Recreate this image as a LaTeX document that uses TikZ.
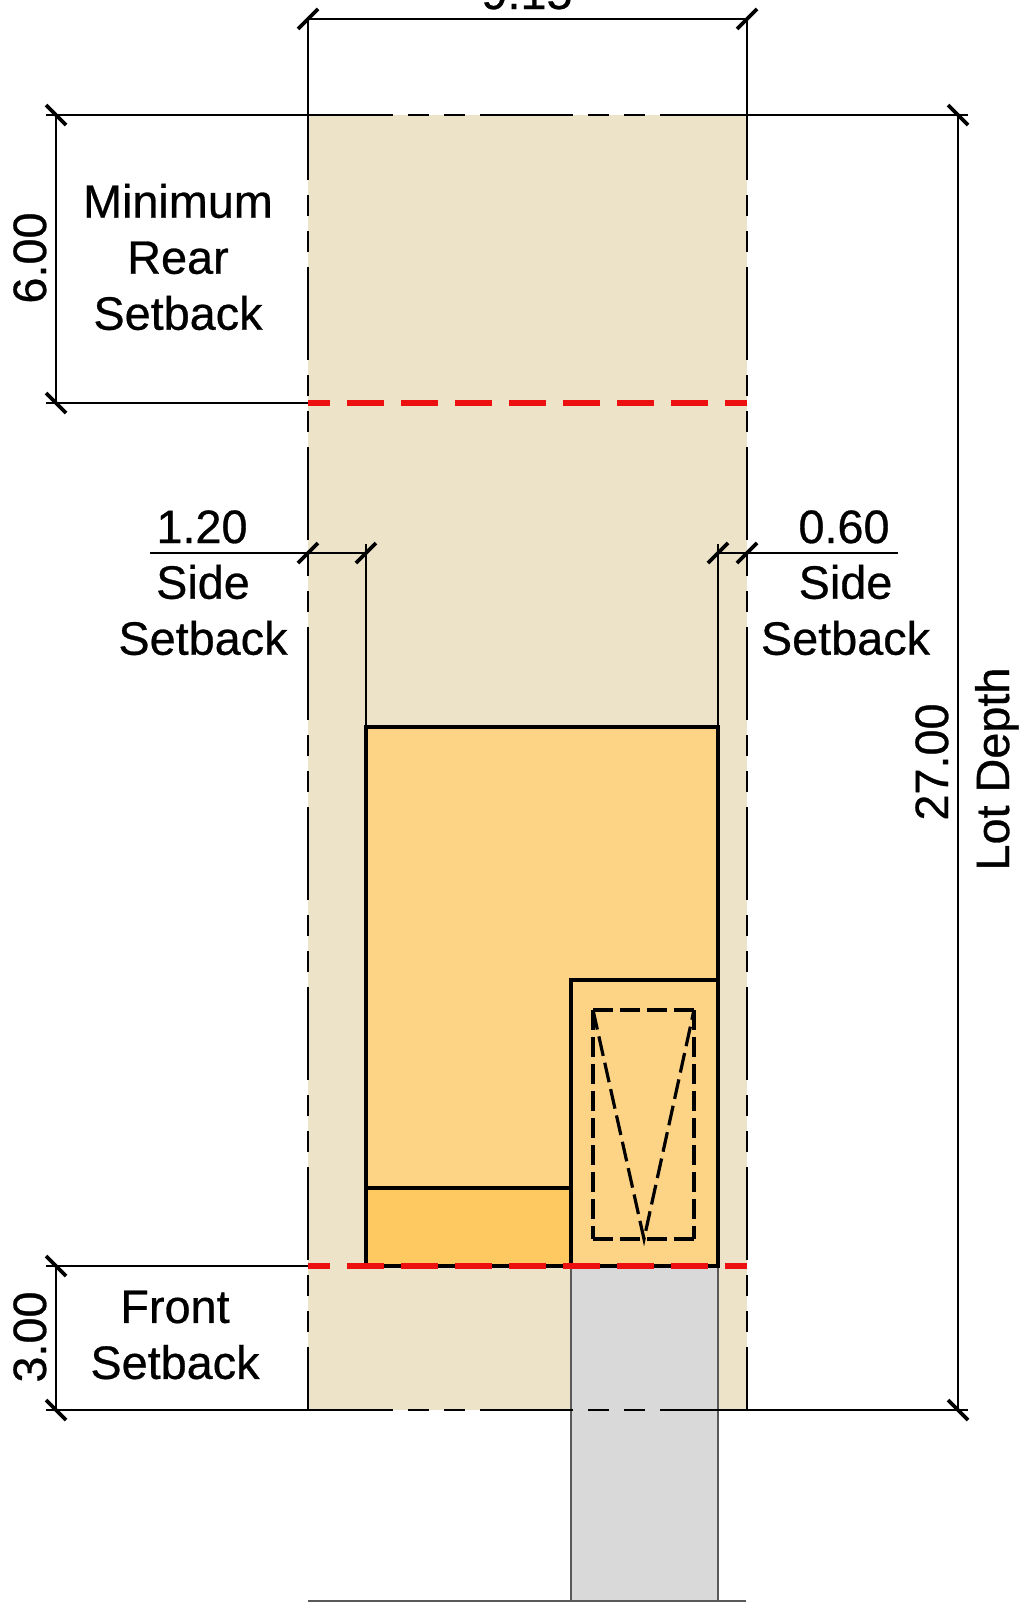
\documentclass[tikz,border=0pt]{standalone}
\usepackage{fontspec}
\setmainfont{Liberation Sans}[RawFeature={embolden=0.6}]
\usepackage{tikz}
\definecolor{lottan}{RGB}{236,227,200}
\definecolor{housefill}{RGB}{253,212,133}
\definecolor{porchfill}{RGB}{255,201,98}
\definecolor{drivefill}{RGB}{217,217,217}
\definecolor{setbackred}{RGB}{236,16,16}
\tikzstyle{dimline}=[line width=2.4pt,draw=black]
\tikzstyle{dimtick}=[line width=3.6pt,draw=black]
\tikzstyle{lotline}=[line width=2.8pt,draw=black,dash pattern=on 93pt off 15pt on 21pt off 15pt on 21pt off 15pt]
\tikzstyle{setback}=[line width=6.5pt,draw=setbackred,dash pattern=on 37pt off 17pt,dash phase=15pt]
\tikzstyle{wall}=[line width=4.4pt,draw=black]
\tikzstyle{garage}=[line width=3.2pt,draw=black,dash pattern=on 20pt off 7pt]
\tikzstyle{drive}=[line width=1.4pt,draw=black!65]
\tikzstyle{lbl}=[inner sep=0pt,align=center,font=\fontsize{46.8}{56}\selectfont]
\begin{document}
\begin{tikzpicture}[x=1pt,y=-1pt]
     \useasboundingbox (0,0) rectangle (1024,1612);
     % lot corners and setback lines
     \coordinate (LT) at (308,115);
     \coordinate (RT) at (747,115);
     \coordinate (LB) at (308,1410);
     \coordinate (RB) at (747,1410);
     \coordinate (LR) at (308,403);
     \coordinate (RR) at (747,403);
     \coordinate (LF) at (308,1266);
     \coordinate (RF) at (747,1266);
     % house
     \coordinate (H1) at (366,727);
     \coordinate (H2) at (718,727);
     \coordinate (H3) at (718,1266);
     \coordinate (H4) at (366,1266);
     \coordinate (G1) at (571,980);
     \coordinate (G2) at (718,980);
     \coordinate (G3) at (571,1266);
     \coordinate (P1) at (366,1188);
     \coordinate (P2) at (571,1188);
     % garage car space
     \coordinate (C1) at (593,1010);
     \coordinate (C2) at (694,1010);
     \coordinate (C3) at (694,1239);
     \coordinate (C4) at (593,1239);
     \coordinate (C5) at (644,1239);
     % driveway
     \coordinate (D1) at (571,1601);
     \coordinate (D2) at (718,1601);
     \coordinate (S1) at (308,1601);
     \coordinate (S2) at (746,1601);
     % dimension ends
     \coordinate (WL) at (308,19);
     \coordinate (WR) at (747,19);
     \coordinate (A1) at (56,115);
     \coordinate (A2) at (56,403);
     \coordinate (A3) at (56,1266);
     \coordinate (A4) at (56,1410);
     \coordinate (B1) at (958,115);
     \coordinate (B2) at (958,1410);
     \coordinate (E1) at (150,553);
     \coordinate (E2) at (308,553);
     \coordinate (E3) at (366,553);
     \coordinate (E4) at (718,553);
     \coordinate (E5) at (747,553);
     \coordinate (E6) at (898,553);

     % fills
     \fill[lottan] (LT) rectangle (RB);
     \fill[drivefill] (G3) rectangle (D2);
     \fill[housefill] (H1) rectangle (H3);
     \fill[porchfill] (P1) rectangle (G3);

     % driveway edges
     \draw[drive] (G3) -- (D1);
     \draw[drive] (H3) -- (D2);
     \draw[drive] (S1) -- (S2);

     % house outline
     \draw[wall] (H1) -- (H2) -- (H3) -- (H4) -- cycle;
     \draw[wall] (P1) -- (P2);
     \draw[wall] (G3) -- (G1) -- (G2);
     \draw[garage] (C1) -- (C2);
     \draw[garage] (C4) -- (C3);
     \draw[garage] (C1) -- (C4);
     \draw[garage] (C2) -- (C3);
     \draw[garage] (C1) -- (C5) -- (C2);

     % lot lines
     \draw[lotline,dash phase=8pt] (LT) -- (RT);
     \draw[lotline,dash phase=8pt] (LB) -- (RB);
     \draw[lotline,dash phase=30pt] (LB) -- (LT);
     \draw[lotline,dash phase=30pt] (RB) -- (RT);

     % dimension lines
     \draw[dimline] (WL) -- (WR);
     \draw[dimline] (WL) -- (LT);
     \draw[dimline] (WR) -- (RT);
     \draw[dimline] ([xshift=-10pt]A1) -- (LT);
     \draw[dimline] ([xshift=-10pt]A2) -- (LR);
     \draw[dimline] ([xshift=-10pt]A3) -- (LF);
     \draw[dimline] ([xshift=-10pt]A4) -- (LB);
     \draw[dimline] (A1) -- (A2);
     \draw[dimline] (A3) -- (A4);
     \draw[dimline] (RT) -- ([xshift=10pt]B1);
     \draw[dimline] (RB) -- ([xshift=10pt]B2);
     \draw[dimline] (B1) -- (B2);
     \draw[dimline] (E1) -- (E3);
     \draw[dimline] (E4) -- (E6);
     \draw[dimline] ([yshift=9pt]E3) -- (H1);
     \draw[dimline] ([yshift=9pt]E4) -- (H2);

     % ticks
     \foreach \p in {A1,A2,A3,A4,B1,B2}
        \draw[dimtick] ([shift={(-10,-10)}]\p) -- ([shift={(10,10)}]\p);
     \foreach \p in {WL,WR,E2,E3,E4,E5}
        \draw[dimtick] ([shift={(-10,10)}]\p) -- ([shift={(10,-10)}]\p);

     % setback lines
     \draw[setback] (LR) -- (RR);
     \draw[setback] (LF) -- (RF);

     % labels
     \node (width) [lbl,anchor=base] at (527,9) {9.15};
     \node (rearval) [lbl,anchor=base,rotate=90] at (46,258) {6.00};
     \node (frontval) [lbl,anchor=base,rotate=90] at (46,1337) {3.00};
     \node (depthval) [lbl,anchor=base,rotate=90] at (948,762) {27.00};
     \node (depth) [lbl,anchor=base,rotate=90] at (1009,769) {Lot Depth};
     \node (rear) [lbl] at (178,257) {Minimum\\Rear\\Setback};
     \node (front) [lbl] at (175,1335) {Front\\Setback};
     \node (leftval) [lbl,anchor=base] at (202,543) {1.20};
     \node (rightval) [lbl,anchor=base] at (844,543) {0.60};
     \node (leftside) [lbl] at (203,610) {Side\\Setback};
     \node (rightside) [lbl] at (845.5,610) {Side\\Setback};
\end{tikzpicture}
\end{document}
